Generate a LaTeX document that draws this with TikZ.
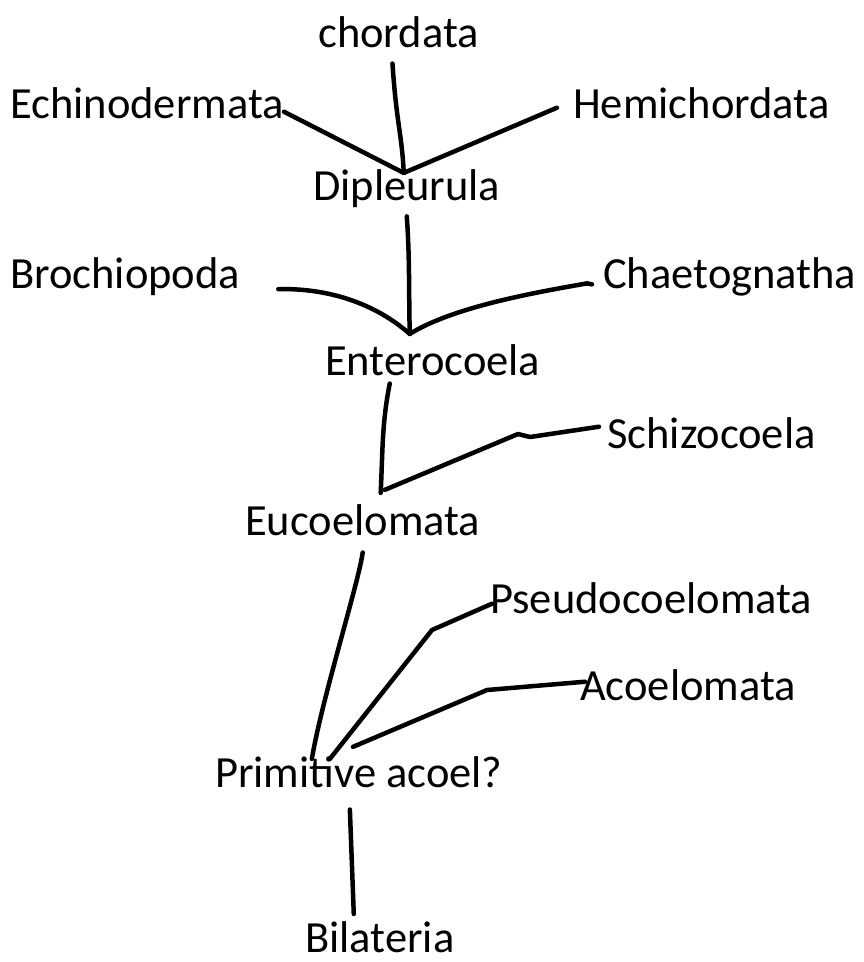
\documentclass[tikz,border=0pt]{standalone}
\usepackage{fontspec}
\setmainfont{Carlito}
\begin{document}
\begin{tikzpicture}[
    x=1pt, y=-1pt,
    taxon/.style={anchor=base west, inner sep=0pt, font=\fontsize{44.5pt}{53pt}\selectfont},
    branch/.style={line width=4.5pt, line cap=round, line join=round}
]
\useasboundingbox (0,0) rectangle (864,962);

% Taxa
\node[taxon] (chordata) at (318,47) {chordata};
\node[taxon] (echino) at (10,118) {Echinodermata};
\node[taxon] (hemi) at (573,118) {Hemichordata};
\node[taxon] (dipleurula) at (313,200) {Dipleurula};
\node[taxon] (brachio) at (10,288) {Brochiopoda};
\node[taxon] (chaeto) at (603,288) {Chaetognatha};
\node[taxon] (entero) at (325,375) {Enterocoela};
\node[taxon] (schizo) at (607,448) {Schizocoela};
\node[taxon] (eucoel) at (245,535) {Eucoelomata};
\node[taxon] (pseudo) at (490,613) {Pseudocoelomata};
\node[taxon] (acoel) at (580,700) {Acoelomata};
\node[taxon] (primitive) at (215,787) {Primitive acoel?};
\node[taxon] (bilateria) at (305,952) {Bilateria};

% Junctions
\coordinate (jdip) at ([xshift=-3pt, yshift=-4pt]dipleurula.north);
\coordinate (jent) at ([xshift=-23pt, yshift=10pt]entero.north);
\coordinate (jeuc) at ([xshift=18pt, yshift=11pt]eucoel.north);

% Branches above Dipleurula
\draw[branch] ([xshift=-6pt, yshift=-16pt]chordata.south) .. controls +(4,60) and +(-2,-40) .. (jdip);
\draw[branch] ([yshift=-9pt]echino.east) -- (jdip);
\draw[branch] (jdip) -- ([xshift=-16pt, yshift=-5pt]hemi.west);

% Branches above Enterocoela
\draw[branch] ([yshift=-9pt]dipleurula.south) .. controls +(3,40) and +(-1,-40) .. (jent);
\draw[branch] ([xshift=38pt, yshift=-13pt]brachio.east) .. controls +(42,-1) and +(-40,-35) .. (jent);
\draw[branch] (jent) .. controls +(45,-28) and +(-45,8) .. ([xshift=-16pt, yshift=-7pt]chaeto.west) -- ([xshift=-11pt, yshift=-8pt]chaeto.west);

% Branches above Eucoelomata
\draw[branch] ([xshift=-43pt, yshift=-8pt]entero.south) .. controls +(-8,40) and +(2,-40) .. (jeuc);
\draw[branch] ([xshift=4pt, yshift=3pt]jeuc) -- (518,434) -- (530,437) -- ([xshift=-8pt, yshift=6pt]schizo.west);

% Branches above Primitive acoel?
\draw[branch] ([yshift=-17pt]eucoel.south) .. controls +(-4,30) and +(10,-60) .. ([xshift=-47pt, yshift=-3pt]primitive.north);
\draw[branch] ([xshift=-29pt, yshift=-3pt]primitive.north) -- (432,630) -- ([xshift=2pt, yshift=-6pt]pseudo.west);
\draw[branch] ([xshift=-6pt, yshift=9pt]primitive.north) -- (487,690) -- ([xshift=5pt, yshift=3pt]acoel.west);

% Root
\draw[branch] ([xshift=-9pt, yshift=-22pt]primitive.south) -- ([xshift=-26pt, yshift=7pt]bilateria.north);

\end{tikzpicture}
\end{document}
